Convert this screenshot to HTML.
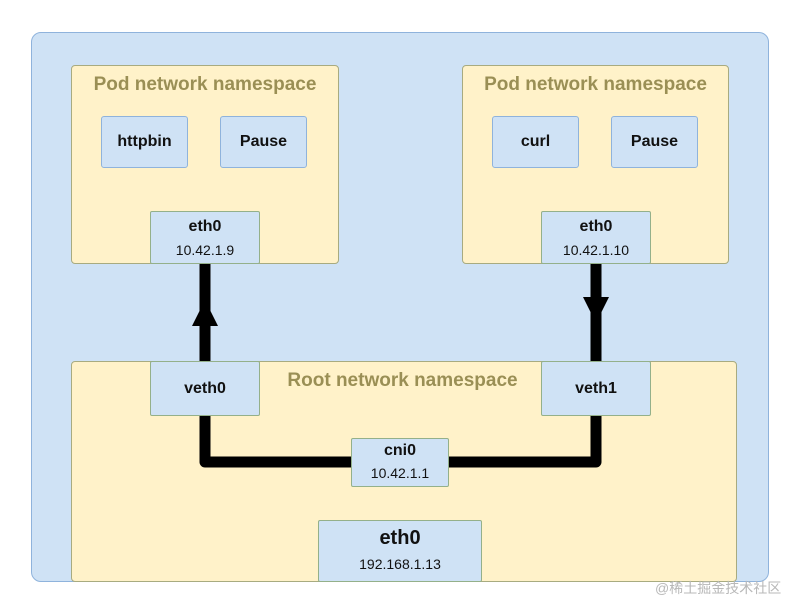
<!DOCTYPE html>
<html><head><style>
body{margin:0;width:800px;height:613px;background:#fff;position:relative;overflow:hidden;font-family:"Liberation Sans","Noto Sans CJK SC",sans-serif}
.a{position:absolute;box-sizing:border-box}
.outer{left:31px;top:32px;width:738px;height:550px;background:#cfe2f5;border:1.5px solid #8fb3dc;border-radius:10px}
.ns{background:#fff2c9;border:1.5px solid #a8ab80;border-radius:4px}
.t{color:#9a8f55;font-weight:bold;font-size:19px;text-align:center}
.b{background:#cfe2f5;border:1.5px solid #94b08a;border-radius:2px;text-align:center;font-weight:bold;color:#111;font-size:16px}
.c{background:#cfe2f5;border:1.5px solid #8fb3dc;border-radius:3px;text-align:center;font-weight:bold;color:#111;font-size:16px;line-height:50px}
.ip{font-weight:normal;font-size:14px}
</style></head><body>
<div class="a outer"></div>
<div class="a ns" style="left:71px;top:65px;width:268px;height:199px"></div>
<div class="a t" style="left:71px;top:74px;width:268px">Pod network namespace</div>
<div class="a ns" style="left:462px;top:65px;width:267px;height:199px"></div>
<div class="a t" style="left:462px;top:74px;width:267px">Pod network namespace</div>
<div class="a ns" style="left:71px;top:361px;width:666px;height:221px"></div>
<div class="a t" style="left:260px;top:370px;width:285px">Root network namespace</div>
<div class="a c" style="left:101px;top:116px;width:87px;height:52px">httpbin</div>
<div class="a c" style="left:220px;top:116px;width:87px;height:52px">Pause</div>
<div class="a c" style="left:492px;top:116px;width:87px;height:52px">curl</div>
<div class="a c" style="left:611px;top:116px;width:87px;height:52px">Pause</div>
<svg class="a" style="left:0;top:0" width="800" height="613">
<path d="M205 263 V362 M205 415 V462 H596 V415 M596 263 V362" stroke="#000" stroke-width="11" fill="none" stroke-linejoin="round"/>
<polygon points="205,300 192,326 218,326" fill="#000"/>
<polygon points="596,323 583,297 609,297" fill="#000"/>
</svg>
<div class="a b" style="left:150px;top:211px;width:110px;height:53px;padding-top:6px">eth0<div class="ip" style="margin-top:6px">10.42.1.9</div></div>
<div class="a b" style="left:541px;top:211px;width:110px;height:53px;padding-top:6px">eth0<div class="ip" style="margin-top:6px">10.42.1.10</div></div>
<div class="a b" style="left:150px;top:361px;width:110px;height:55px;line-height:53px">veth0</div>
<div class="a b" style="left:541px;top:361px;width:110px;height:55px;line-height:53px">veth1</div>
<div class="a b" style="left:351px;top:438px;width:98px;height:49px;padding-top:3px">cni0<div class="ip" style="margin-top:5px">10.42.1.1</div></div>
<div class="a b" style="left:318px;top:520px;width:164px;height:62px;padding-top:6px;font-size:20px">eth0<div class="ip" style="margin-top:6px">192.168.1.13</div></div>
<div class="a" style="left:655px;top:578px;font-size:14px;color:#b8b8b8">@稀土掘金技术社区</div>
</body></html>
